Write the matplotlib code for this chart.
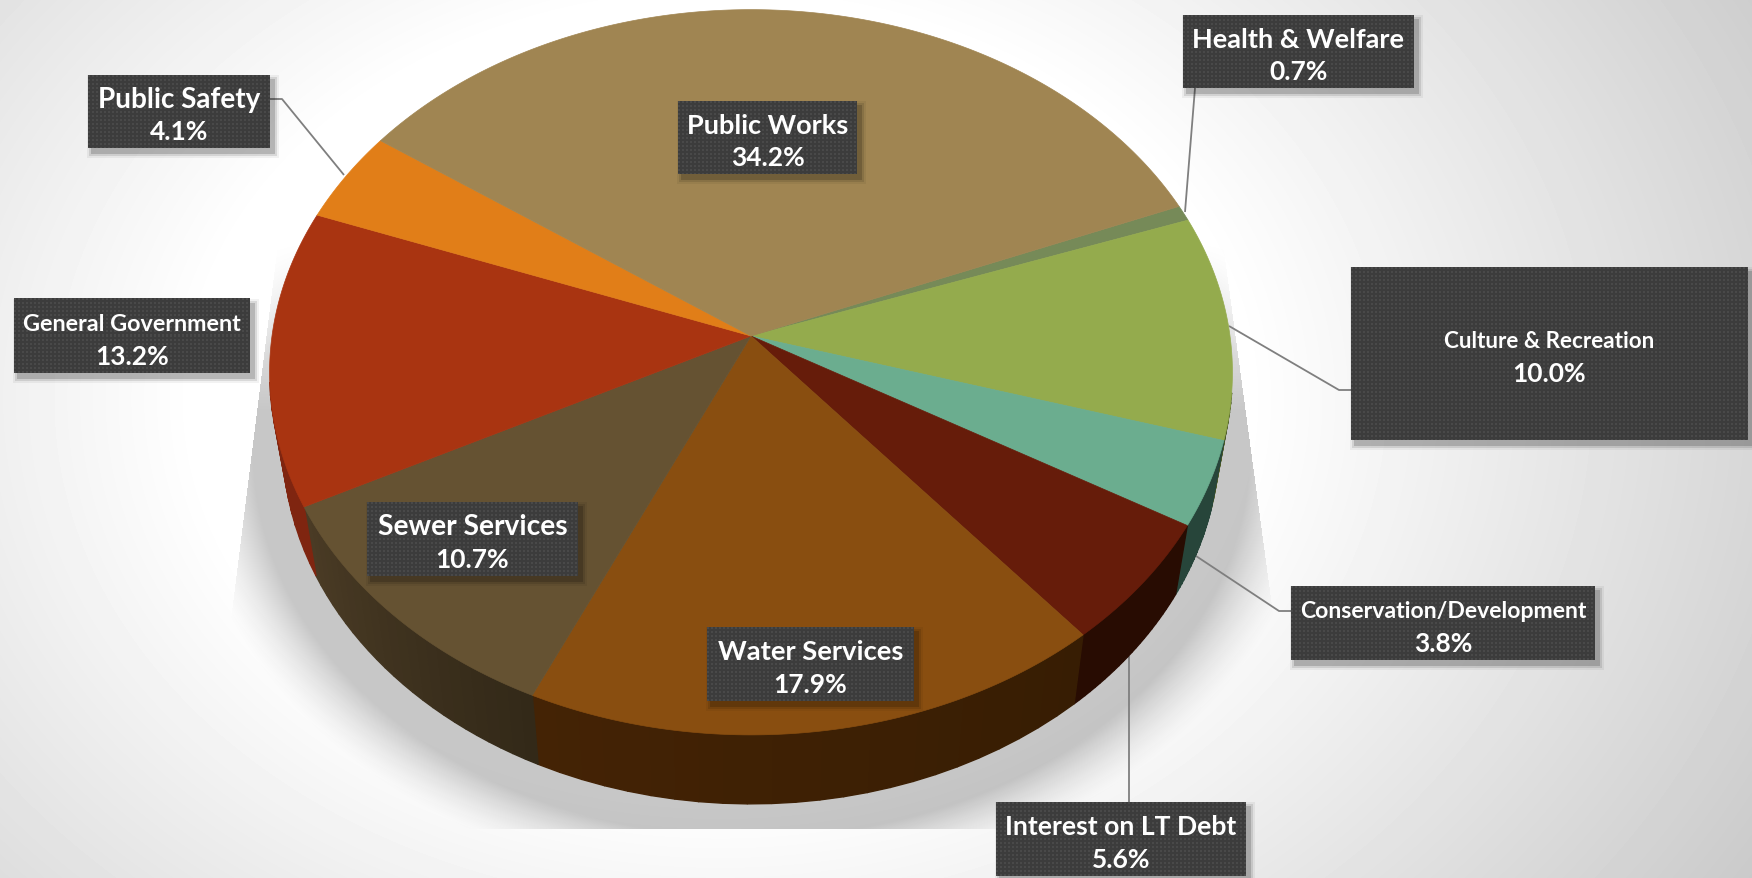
import numpy as np
import matplotlib
matplotlib.use("Agg")
import matplotlib.pyplot as plt
from matplotlib.colors import to_rgb
from matplotlib.patches import Polygon, Rectangle

# budget shares, clockwise starting from Health & Welfare
names = ["Health & Welfare", "Culture & Recreation", "Conservation/Development", "Interest on LT Debt",
         "Water Services", "Sewer Services", "General Government", "Public Safety", "Public Works"]
values = [0.7, 10.0, 3.8, 5.6, 17.9, 10.7, 13.2, 4.1, 34.2]
top_colors = ["#768a58", "#94ab4d", "#6bad8f", "#661c0a", "#894e10", "#655232", "#a93411", "#e17e18", "#a08552"]
# wall shade at the clockwise-first and clockwise-last end of each slice
wall_from = ["#3e4a2c", "#4c5a26", "#27453a", "#280c02", "#371d03", "#332918", "#7f2510", "#80480e", "#55462a"]
wall_to = ["#3e4a2c", "#4c5a26", "#27453a", "#280c02", "#442305", "#4a3b25", "#7f2510", "#80480e", "#55462a"]

# label boxes as left, top, right, bottom in pixels
boxes = [(1183, 16, 1414, 89), (1351, 268, 1748, 441), (1291, 587, 1595, 661), (996, 803, 1246, 877),
         (707, 628, 914, 702), (367, 503, 578, 577), (14, 300, 250, 374), (88, 76, 270, 149), (678, 102, 857, 175)]
name_widths = [212, 212, 287, 232, 187, 191, 220, 163, 162]
pct_sizes = [19, 19, 19, 19, 19, 19, 19, 19, 19]
leaders = [[(1195, 89), (1185, 213)],
           [(1229, 327), (1339, 391), (1351, 391)],
           [(1196, 557), (1279, 612), (1291, 612)],
           [(1129, 657), (1129, 803)],
           None, None, None,
           [(270, 100), (282, 100), (344, 176)],
           None]

W, H = 1752, 879
X0, Y0 = 751, 337      # where the slices meet
RX, RY = 479, 359
PERSP = 0.1
DEPTH = 69
SHRINK = 0.027
START = 22.0

plt.rcParams['font.family'] = ['Lato', 'DejaVu Sans']
fig = plt.figure(figsize=(W / 100, H / 100), dpi=100)
ax = fig.add_axes([0, 0, 1, 1])
ax.set_axis_off()


def rim(theta):
    # point on the rim of the top face for an angle in degrees
    t = np.radians(theta)
    w = 1 + PERSP * np.sin(t)
    return X0 + RX * np.cos(t) / w, Y0 - RY * np.sin(t) / w


def under(x, y):
    return x - SHRINK * (x - X0), y + DEPTH


# grey backdrop, white around the pie
yy, xx = np.mgrid[0:H, 0:W]
dist = np.sqrt(((xx - 720) / 1050.0) ** 2 + ((yy - 400) / 800.0) ** 2)
bg = 1 - 0.32 * np.clip(dist - 0.5, 0, 1)
ax.imshow(bg, cmap="gray", vmin=0, vmax=1, extent=(0, W, H, 0), aspect="auto", zorder=0, interpolation="bilinear")

# soft shadow below the pie, cut off on a trapezoid
r = np.sqrt(((xx - 751) / 478.0) ** 2 + ((yy - 450) / 372.0) ** 2)
fall = np.clip((1 - (r - 1) * 372 / 70.0) * 1.3, 0, 1) ** 1.5
left_edge = 278 + (yy - 240) * (233 - 278) / (600 - 240)
right_edge = 1222 + (yy - 240) * (1267 - 1222) / (573 - 240)
ramp = np.clip((yy - 240) / 170.0, 0, 1)
mask = (xx > left_edge) & (xx < right_edge) & (yy < 830)
shadow = np.zeros((H, W, 4))
shadow[..., 3] = 0.22 * fall * ramp * mask
ax.imshow(shadow, extent=(0, W, H, 0), aspect="auto", zorder=1, interpolation="nearest")

# leader lines sit behind the pie
for pts in leaders:
    if pts:
        ax.plot([p[0] for p in pts], [p[1] for p in pts], color="#7f7f7f", lw=1.3, zorder=2, solid_capstyle="butt")

shares = np.array(values) / sum(values) * 360
ends = START - np.cumsum(shares)
starts = ends + shares

# pie wall first, cut in strips for the shading, then top faces over it
for i in range(len(values)):
    n = 24
    th = np.linspace(starts[i], ends[i], n + 1)
    x, y = rim(th)
    bx, by = under(x, y)
    c0 = np.array(to_rgb(wall_from[i]))
    c1 = np.array(to_rgb(wall_to[i]))
    for j in range(n):
        # the back of the wall never shows
        if np.sin(np.radians(th[j])) > -0.15:
            continue
        col = c0 + (c1 - c0) * j / (n - 1)
        pts = [(x[j], y[j]), (x[j + 1], y[j + 1]), (bx[j + 1], by[j + 1]), (bx[j], by[j])]
        ax.add_patch(Polygon(pts, closed=True, fc=col, ec=col, lw=1.0, zorder=3))

for i in range(len(values)):
    th = np.linspace(starts[i], ends[i], 200)
    x, y = rim(th)
    pts = np.column_stack([np.r_[X0, x], np.r_[Y0, y]])
    ax.add_patch(Polygon(pts, closed=True, fc=top_colors[i], ec=top_colors[i], lw=0.5, zorder=4))

# label boxes with their dotted fill
renderer = fig.canvas.get_renderer()
for i, (l, t, rt, b) in enumerate(boxes):
    for grow, a in [(5, 0.05), (3, 0.1), (1, 0.16)]:
        ax.add_patch(Rectangle((l + 4 - grow, t + 5 - grow), rt - l + 2 * grow, b - t + 2 * grow,
                               fc="black", ec="none", alpha=a, zorder=5))
    h = b - t
    w = rt - l
    jj, ii = np.mgrid[0:h, 0:w]
    dots = np.where((ii % 4 < 2) & (jj % 4 < 2), 0.29, 0.235)
    ax.imshow(dots, cmap="gray", vmin=0, vmax=1, extent=(l, rt, b, t), aspect="auto", zorder=6, interpolation="nearest")

    cy = (t + b) / 2
    cx = (l + rt) / 2
    tx = ax.text(cx, cy - 12.5, names[i], color="white", ha="center", va="center", fontsize=16, fontweight="bold", zorder=7)
    size = 16 * name_widths[i] / tx.get_window_extent(renderer).width
    tx.set_fontsize(size)
    ax.text(cx, cy + 20, "%.1f%%" % values[i], color="white", ha="center", va="center",
            fontsize=pct_sizes[i], fontweight="bold", zorder=7)

ax.set_xlim(0, W)
ax.set_ylim(H, 0)
fig.savefig("out.png", dpi=100)
